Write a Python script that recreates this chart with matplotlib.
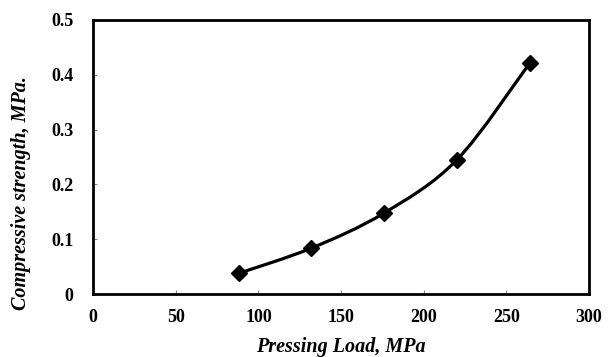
import matplotlib
matplotlib.use('Agg')
from matplotlib import pyplot as plt
from matplotlib.path import Path
from matplotlib.patches import PathPatch
import numpy as np

plt.rcParams['font.family'] = ['Liberation Serif', 'DejaVu Serif']

pressing_load = [88, 132, 176, 220, 264]
strength = [0.038, 0.084, 0.148, 0.245, 0.421]
x_ticks = [0, 50, 100, 150, 200, 250, 300]
y_ticks = [0, 0.1, 0.2, 0.3, 0.4, 0.5]
y_tick_labels = ['0', '0.1', '0.2', '0.3', '0.4', '0.5']


def smooth_path(xs, ys, t=1/6):
    # Catmull-Rom style bezier through the points (like Excel smoothed line)
    pts = np.column_stack([xs, ys]).astype(float)
    verts = [pts[0]]
    codes = [Path.MOVETO]
    n = len(pts)
    for i in range(n - 1):
        p0 = pts[i - 1] if i > 0 else pts[i]
        p1 = pts[i]
        p2 = pts[i + 1]
        p3 = pts[i + 2] if i + 2 < n else pts[i + 1]
        c1 = p1 + (p2 - p0) * t
        c2 = p2 - (p3 - p1) * t
        verts += [c1, c2, p2]
        codes += [Path.CURVE4] * 3
    return Path(verts, codes)


fig = plt.figure(figsize=(6.13, 3.57), dpi=100)
ax = fig.add_axes([0.152, 0.176, 0.809, 0.768])

ax.add_patch(PathPatch(smooth_path(pressing_load, strength), facecolor='none',
                       edgecolor='black', linewidth=2.3, zorder=2))
ax.plot(pressing_load, strength, linestyle='none', marker='D', markersize=8,
        color='black', zorder=3)

ax.set_xlim(0, 300)
ax.set_ylim(0, 0.5)
ax.set_xticks(x_ticks)
ax.set_yticks(y_ticks)
ax.set_yticklabels(y_tick_labels)
ax.tick_params(direction='in', length=3, width=0.8, color='#888888',
               labelsize=13)
ax.tick_params(axis='y', pad=14)
ax.tick_params(axis='x', pad=11)
for lab in ax.get_xticklabels() + ax.get_yticklabels():
    lab.set_fontweight('bold')
for s in ax.spines.values():
    s.set_linewidth(2)
    s.set_color('black')

ax.set_xlabel('Pressing Load, MPa', fontsize=14.5, fontweight='bold',
              fontstyle='italic')
ax.set_ylabel('Compressive strength, MPa.', fontsize=14.5, fontweight='bold',
              fontstyle='italic')
ax.xaxis.set_label_coords(0.5, -0.158)
ax.yaxis.set_label_coords(-0.125, 0.37)

fig.savefig('out.png', dpi=100)
